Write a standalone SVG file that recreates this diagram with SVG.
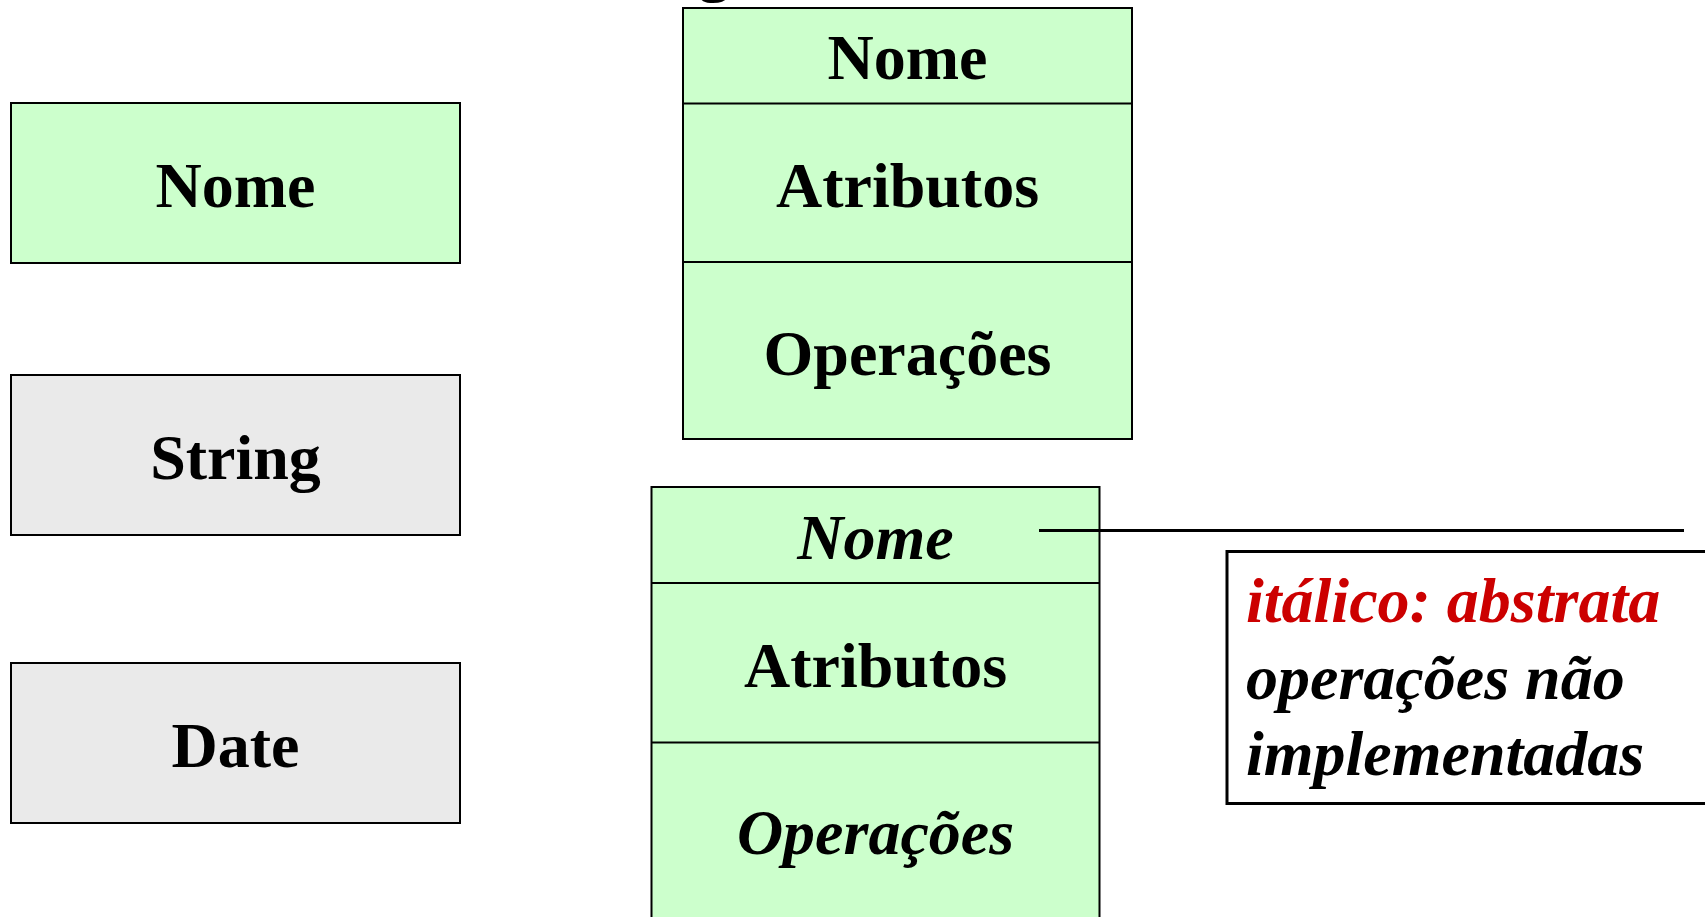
<svg xmlns="http://www.w3.org/2000/svg" width="1705" height="917" viewBox="0 0 1705 917">
<style>
.box{stroke:#000;stroke-width:2}
.g{fill:#CCFFCC}
.y{fill:#EAEAEA}
.sep{stroke:#000;stroke-width:2}
.t{font-family:"Liberation Serif","Times New Roman",serif;font-size:64px;font-weight:bold;fill:#000}
.c{text-anchor:middle}
.i{font-style:italic}
.r{fill:#CC0000}
</style>
<rect width="1705" height="917" fill="#FFFFFF"/>
<text class="t" x="714" y="-11" text-anchor="middle">g</text>
<g id="node-nome">
<rect class="box g" x="11" y="103" width="449" height="160"/>
<text class="t c" x="235.5" y="206.5">Nome</text>
</g>
<g id="node-string">
<rect class="box y" x="11" y="375" width="449" height="160"/>
<text class="t c" x="235.5" y="478.5">String</text>
</g>
<g id="node-date">
<rect class="box y" x="11" y="663" width="449" height="160"/>
<text class="t c" x="235.5" y="766.5">Date</text>
</g>
<g id="node-classe">
<rect class="box g" x="683" y="8" width="449" height="431"/>
<line class="sep" x1="683" y1="103.5" x2="1132" y2="103.5"/>
<line class="sep" x1="683" y1="262" x2="1132" y2="262"/>
<text class="t c" x="907.5" y="79">Nome</text>
<text class="t c" x="907.5" y="206.5">Atributos</text>
<text class="t c" x="907.5" y="374.5">Operações</text>
</g>
<g id="node-abstrata">
<rect class="box g" x="651.5" y="487" width="448" height="445"/>
<line class="sep" x1="651.5" y1="583" x2="1099.5" y2="583"/>
<line class="sep" x1="651.5" y1="742.5" x2="1099.5" y2="742.5"/>
<text class="t c i" x="875.5" y="558.5">Nome</text>
<text class="t c" x="875.5" y="686.5">Atributos</text>
<text class="t c i" x="875.5" y="853.5">Operações</text>
</g>
<g id="connectors">
<line x1="1039" y1="530.5" x2="1684" y2="530.5" stroke="#000" stroke-width="3"/>
</g>
<g id="node-nota">
<rect x="1227" y="551.5" width="500" height="252" fill="#FFFFFF" stroke="#000" stroke-width="3"/>
<text class="t i r" x="1246" y="621.5">itálico: abstrata</text>
<text class="t i" x="1246" y="699">operações não</text>
<text class="t i" x="1246" y="775">implementadas</text>
</g>
</svg>
